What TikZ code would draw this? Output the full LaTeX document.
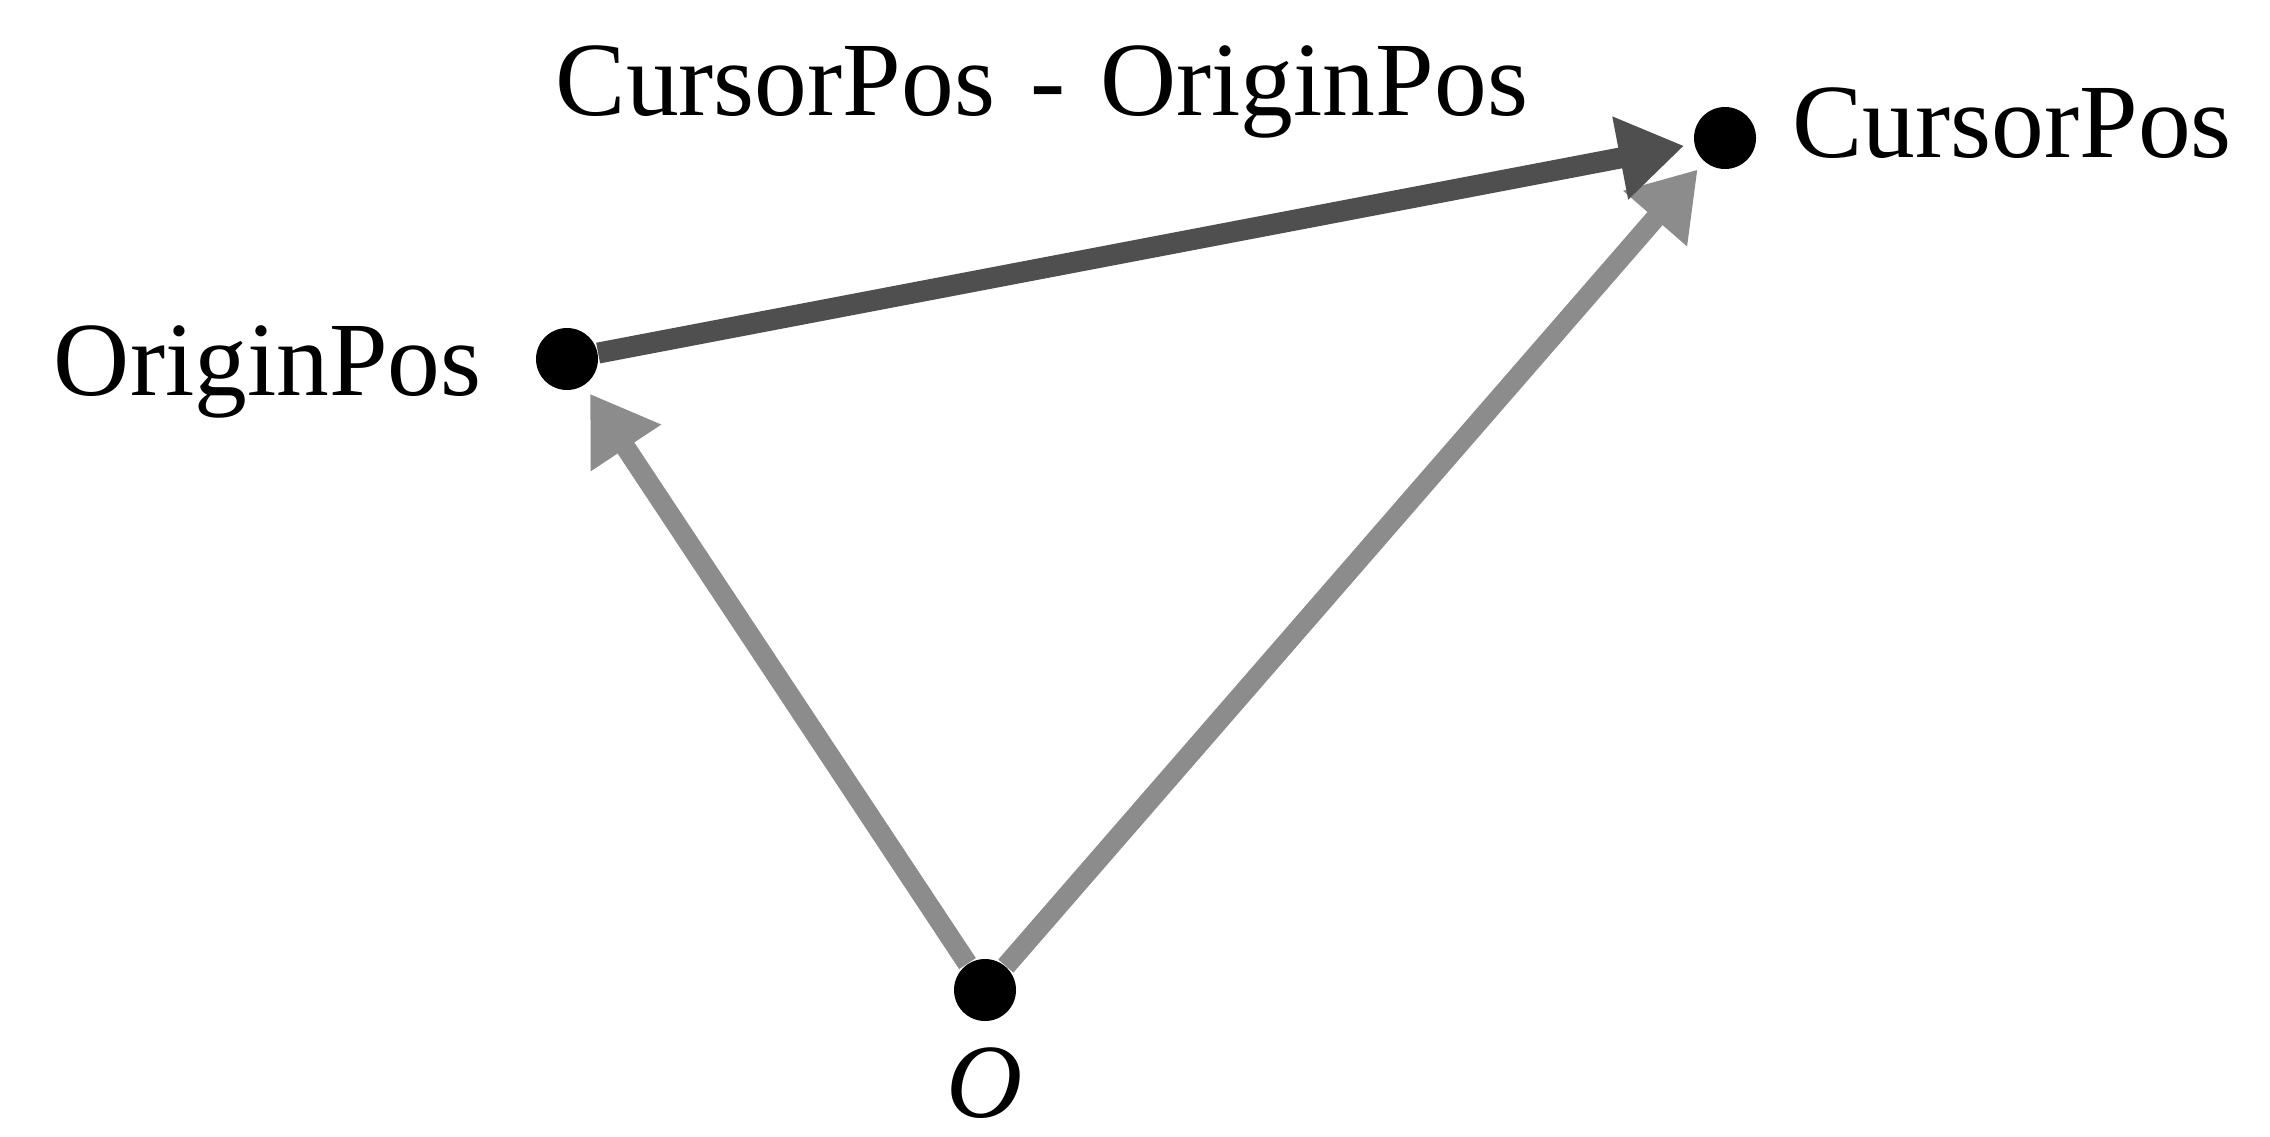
\documentclass[tikz,border=0pt]{standalone}
\usepackage{fontspec}
\setmainfont{Liberation Serif}
\usetikzlibrary{arrows.meta, positioning}
\definecolor{grisclaro}{HTML}{8C8C8C}
\definecolor{grisoscuro}{HTML}{4F4F4F}

\begin{document}
\begin{tikzpicture}[
  font=\fontsize{30}{36}\selectfont,
  punto/.style={circle, fill=black, inner sep=0pt, minimum size=0.62cm},
  etiq/.style={inner sep=0pt},
  vec/.style={-{Triangle[length=0.65cm, width=0.8cm]}, line width=0.2cm, grisclaro, shorten >=0.1cm},
  vecdif/.style={vec, grisoscuro, line width=0.21cm},
]
\useasboundingbox (0,0) rectangle (22.7,11.36);

% --- Puntos ---
\node[punto] (o)      at (9.85,1.46) {};
\node[punto] (origin) at (5.67,7.77) {};
\node[punto] (cursor) at (17.25,9.98) {};

% --- Etiquetas ---
\node[etiq, below=0.25cm of o] (lo) {\textit{O}};
\node[etiq, left=0.53cm of origin, yshift=-0.13cm] (lorigin) {OriginPos};
\node[etiq, right=0.35cm of cursor, yshift=0.15cm] (lcursor) {CursorPos};
\node[etiq, anchor=base west] (ldif) at (5.55,10.21) {CursorPos\,\,-\,\,OriginPos};

% --- Vectores ---
\draw[vec] (o) -- (origin);
\draw[vec] (o) -- (cursor);
\draw[vecdif] (origin) -- (cursor);

\end{tikzpicture}
\end{document}
